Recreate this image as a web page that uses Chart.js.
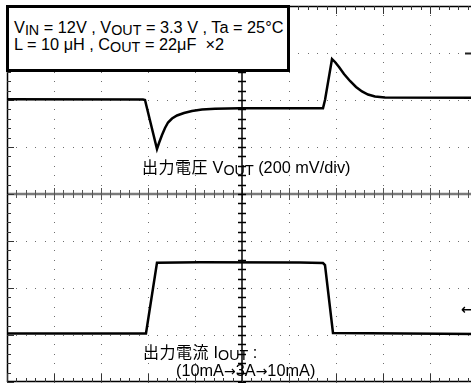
<!DOCTYPE html>
<html>
<head>
<meta charset="utf-8">
<script src="https://cdn.jsdelivr.net/npm/chart.js@4.4.1/dist/chart.umd.min.js"></script>
<style>
    html, body { margin: 0; padding: 0; background: #fff; overflow: hidden; }
    #wrap { position: relative; width: 471px; height: 383px; overflow: hidden; }
    #scope { position: absolute; left: 0; top: 0; }
    .txt {
        position: absolute;
        font-family: "Liberation Sans", Arial, "Noto Sans CJK JP", sans-serif;
        font-size: 16.3px;
        line-height: 16px;
        color: #000;
        white-space: nowrap;
    }
    .s { font-size: 0.88em; position: relative; top: 2px; }
    .jp { font-family: "Noto Sans CJK JP", sans-serif; font-size: 16px; letter-spacing: 0.5px; }
    .ar { font-family: "DejaVu Sans", sans-serif; font-size: 14px; }
    #cond {
        position: absolute;
        left: 6px; top: 5px; width: 284px; height: 67px;
        box-sizing: border-box;
        border: 3px solid #000;
        background: #fff;
    }
</style>
</head>
<body>
<div id="wrap">
    <canvas id="scope" width="480" height="383"></canvas>
    <div id="cond"></div>
    <div class="txt" style="left:14px; top:19px;">V<span class="s">IN</span> = 12V , V<span class="s">OUT</span> = 3.3 V , Ta = 25°C</div>
    <div class="txt" style="left:14px; top:36px;">L = 10 μH , C<span class="s">OUT</span> = 22μF &nbsp;×2</div>
    <div class="txt" style="left:142px; top:158px;"><span class="jp">出力電圧</span> V<span class="s">OUT</span> (200 mV/div)</div>
    <div class="txt" style="left:143px; top:343px;"><span class="jp">出力電流</span> I<span class="s">OUT</span> :</div>
    <div class="txt" style="left:176px; top:362px;">(10mA<span class="ar">→</span>3A<span class="ar">→</span>10mA)</div>
    <div class="txt" style="left:461px; top:300px;"><span class="ar" style="font-weight:bold;">←</span></div>
</div>
<script>
// time axis in divisions (10 div across), amplitude in divisions (8 div high)
const vTime = [0, 2.894, 2.936, 3.191, 3.234, 3.298, 3.362, 3.426, 3.511, 3.617, 3.766, 3.936, 4.149, 4.426, 4.957,
    6.723, 6.766, 6.915, 6.979, 7.064, 7.170, 7.298, 7.426, 7.553, 7.681, 7.830, 8.043, 10];
const vOut = [6.015, 6.012, 6.000, 4.957, 5.085, 5.255, 5.404, 5.521, 5.606, 5.670, 5.723, 5.766, 5.798, 5.815, 5.823,
    5.823, 6.000, 6.872, 6.809, 6.702, 6.553, 6.404, 6.277, 6.181, 6.117, 6.074, 6.053, 6.049];

const iTime = [0, 2.957, 3.191, 4.106, 6.234, 6.723, 6.766, 6.936, 10];
const iOut = [1.032, 1.032, 2.538, 2.547, 2.543, 2.532, 2.489, 1.043, 1.021];

const xDivs = 10;
const yDivs = 8;

const toPoints = (xs, ys) => xs.map((t, i) => ({ x: t, y: ys[i] }));

// oscilloscope graticule: dotted grid, centre cross with ticks, framed edges
const graticule = {
    id: 'graticule',
    beforeDatasetsDraw(chart) {
        const { ctx, chartArea: a, scales: { x, y } } = chart;
        const px = v => Math.round(x.getPixelForValue(v));
        const py = v => Math.round(y.getPixelForValue(v));
        ctx.save();

        // dots
        ctx.fillStyle = '#6e6e6e';
        for (let i = 1; i < xDivs; i++) {
            if (i === 5) continue;
            for (let k = 0; k <= yDivs * 5; k++) ctx.fillRect(px(i), py(k * 0.2), 1, 1);
        }
        for (let j = 1; j < yDivs; j++) {
            if (j === 4) continue;
            for (let k = 0; k <= xDivs * 5; k++) ctx.fillRect(px(k * 0.2), py(j), 1, 1);
        }

        // centre horizontal (grey, thick)
        const cy = py(4);
        ctx.strokeStyle = '#7a7a7a';
        ctx.lineWidth = 2.5;
        ctx.beginPath(); ctx.moveTo(a.left, cy); ctx.lineTo(a.right, cy); ctx.stroke();
        ctx.strokeStyle = '#555';
        ctx.lineWidth = 1;
        for (let k = 0; k <= xDivs * 5; k++) {
            const t = k % 5 === 0 ? 6 : 4;
            const xx = px(k * 0.2) + 0.5;
            ctx.beginPath(); ctx.moveTo(xx, cy - t); ctx.lineTo(xx, cy + t); ctx.stroke();
        }

        // centre vertical (black)
        const cx = px(5);
        ctx.strokeStyle = '#000';
        ctx.lineWidth = 1.5;
        ctx.beginPath(); ctx.moveTo(cx, a.top); ctx.lineTo(cx, a.bottom); ctx.stroke();
        for (let k = 0; k <= yDivs * 5; k++) {
            const yy = py(k * 0.2) + 0.5;
            ctx.beginPath(); ctx.moveTo(cx - 4, yy); ctx.lineTo(cx + 4, yy); ctx.stroke();
        }

        // frame: left, top, bottom edges with inward ticks
        ctx.strokeStyle = '#000';
        ctx.lineWidth = 1.5;
        ctx.beginPath();
        ctx.moveTo(a.left + 0.5, a.top); ctx.lineTo(a.left + 0.5, a.bottom);
        ctx.moveTo(a.left, a.top + 0.5); ctx.lineTo(a.right, a.top + 0.5);
        ctx.moveTo(a.left, a.bottom - 0.5); ctx.lineTo(a.right, a.bottom - 0.5);
        ctx.stroke();
        ctx.lineWidth = 1;
        ctx.strokeStyle = '#333';
        for (let k = 0; k <= yDivs * 5; k++) {
            const t = k % 5 === 0 ? 7 : 4;
            const yy = py(k * 0.2) + 0.5;
            ctx.beginPath(); ctx.moveTo(a.left, yy); ctx.lineTo(a.left + t, yy); ctx.stroke();
        }
        for (let k = 0; k <= xDivs * 5; k++) {
            const t = k % 5 === 0 ? 8 : 4;
            const xx = px(k * 0.2) + 0.5;
            ctx.beginPath();
            ctx.moveTo(xx, a.top); ctx.lineTo(xx, a.top + t);
            ctx.moveTo(xx, a.bottom); ctx.lineTo(xx, a.bottom - t);
            ctx.stroke();
        }

        // channel marker stub at right edge
        ctx.strokeStyle = '#222';
        ctx.lineWidth = 2;
        ctx.beginPath(); ctx.moveTo(465, py(7) + 0.5); ctx.lineTo(471, py(7) + 0.5); ctx.stroke();

        ctx.restore();
    }
};

new Chart(document.getElementById('scope'), {
    type: 'line',
    data: {
        datasets: [
            {
                label: 'VOUT',
                data: toPoints(vTime, vOut),
                borderColor: '#000',
                borderWidth: 2.5,
                pointRadius: 0,
                tension: 0
            },
            {
                label: 'IOUT',
                data: toPoints(iTime, iOut),
                borderColor: '#000',
                borderWidth: 2.5,
                pointRadius: 0,
                tension: 0
            }
        ]
    },
    options: {
        responsive: false,
        animation: false,
        layout: { padding: { left: 7, top: 6, right: 3, bottom: 1 } },
        plugins: {
            legend: { display: false },
            tooltip: { enabled: false }
        },
        scales: {
            x: { type: 'linear', min: 0, max: xDivs, display: false },
            y: { type: 'linear', min: 0, max: yDivs, display: false }
        }
    },
    plugins: [graticule]
});
</script>
</body>
</html>
